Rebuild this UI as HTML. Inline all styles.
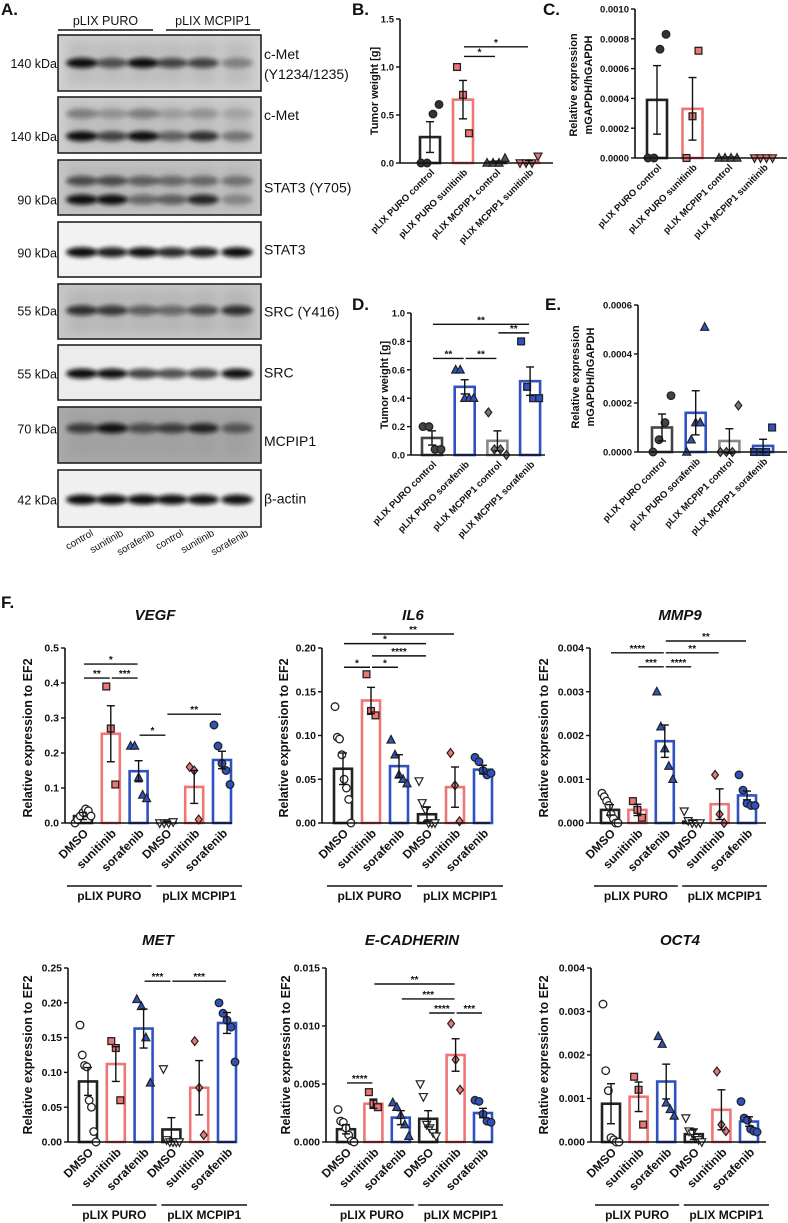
<!DOCTYPE html>
<html><head><meta charset="utf-8">
<style>
html,body{margin:0;padding:0;background:#fff;}
svg{display:block;font-family:"Liberation Sans",sans-serif;}
</style></head>
<body>
<svg id="fig" width="788" height="1223" viewBox="0 0 788 1223" xmlns="http://www.w3.org/2000/svg">
<defs>
<filter id="blur2" x="-50%" y="-100%" width="200%" height="300%"><feGaussianBlur stdDeviation="2"/></filter>
<filter id="blur5" x="-20%" y="-50%" width="140%" height="200%"><feGaussianBlur stdDeviation="5"/></filter>
</defs>
</svg>
<script>
// ---------- Panel B ----------
const bCats = ['pLIX PURO control','pLIX PURO sunitinib','pLIX MCPIP1 control','pLIX MCPIP1 sunitinib'];
const bTicks = [0,0.5,1.0,1.5];
const bTickLabels = ['0.0','0.5','1.0','1.5'];
const bMeans = [0.27,0.66,0.01,0.01];
const bErr = [0.16,0.20,0.01,0.015];
const bPts = [[0,0,0.51,0.61],[1.0,0.71,0.31],[0,0,0,0.05],[0,0,0,0.07]];
const bSig = [[1,2,1.11,'*'],[1,3,1.21,'*']];
// ---------- Panel C ----------
const cCats = bCats;
const cTicks = [0,0.0002,0.0004,0.0006,0.0008,0.0010];
const cTickLabels = ['0.0000','0.0002','0.0004','0.0006','0.0008','0.0010'];
const cMeans = [0.00039,0.00033,0,0];
const cErr = [0.00023,0.00021,0,0];
const cPts = [[0,0,0.00073,0.00083],[0,0.00028,0.00072],[0,0,0,0],[0,0,0,0]];
// ---------- Panel D ----------
const dCats = ['pLIX PURO control','pLIX PURO sorafenib','pLIX MCPIP1 control','pLIX MCPIP1 sorafenib'];
const dTicks = [0,0.2,0.4,0.6,0.8,1.0];
const dTickLabels = ['0.0','0.2','0.4','0.6','0.8','1.0'];
const dMeans = [0.12,0.48,0.10,0.52];
const dErr = [0.05,0.05,0.07,0.10];
const dPts = [[0.2,0.2,0.04,0.04],[0.6,0.6,0.4,0.4,0.4],[0.3,0.04,0.04,0],[0.8,0.48,0.4,0.4]];
const dSig = [[0,3,0.92,'**'],[2,3,0.86,'**'],[0,1,0.68,'**'],[1,2,0.68,'**']];
// ---------- Panel E ----------
const eCats = dCats;
const eTicks = [0,0.0002,0.0004,0.0006];
const eTickLabels = ['0.0000','0.0002','0.0004','0.0006'];
const eMeans = [0.0001,0.00016,0.000045,0.000025];
const eErr = [0.000055,0.00009,0.00005,0.000027];
const ePts = [[0,0.00005,0.00012,0.00023],[0,0.00005,0.00012,0.00012,0.00051],[0,0,0,0.00019],[0,0,0,0.0001]];
// ---------- Panel F ----------
const fCats = ['DMSO','sunitinib','sorafenib','DMSO','sunitinib','sorafenib'];
const vegfTicks = [0,0.1,0.2,0.3,0.4,0.5];
const vegfTickLabels = ['0.0','0.1','0.2','0.3','0.4','0.5'];
const vegfMeans = [0.02,0.255,0.148,0.003,0.103,0.18];
const vegfErr = [0.01,0.08,0.03,0.002,0.047,0.025];
const vegfPts = [[0,0.01,0.02,0.03,0.04,0.035,0.02],[0.39,0.27,0.11],[0.22,0.22,0.13,0.08,0.07],[0,0,0,0.003],[0.16,0.15,0.01],[0.28,0.22,0.17,0.15,0.11]];
const vegfSig = [[0,2,0.454,'*'],[0,1,0.414,'**'],[1,2,0.414,'***'],[2,3,0.251,'*'],[3,5,0.311,'**']];
const il6Ticks = [0,0.05,0.10,0.15,0.20];
const il6TickLabels = ['0.00','0.05','0.10','0.15','0.20'];
const il6Means = [0.062,0.14,0.065,0.01,0.041,0.061];
const il6Err = [0.018,0.015,0.013,0.008,0.023,0.005];
const il6Pts = [[0.133,0.098,0.096,0.078,0.05,0.04,0.027,0],[0.17,0.128,0.123],[0.095,0.078,0.055,0.05,0.045],[0.048,0.023,0.015,0,0,0],[0.08,0.043,0.002],[0.075,0.07,0.06,0.055,0.057]];
const il6Sig = [[1,4,0.216,'**'],[0,3,0.205,'*'],[1,3,0.191,'****'],[0,1,0.178,'*'],[1,2,0.178,'*']];
const mmp9Ticks = [0,0.001,0.002,0.003,0.004];
const mmp9TickLabels = ['0.000','0.001','0.002','0.003','0.004'];
const mmp9Means = [0.0003,0.0003,0.00187,0.00003,0.00043,0.00063];
const mmp9Err = [0.00012,0.00013,0.00037,0.00003,0.00035,0.0001];
const mmp9Pts = [[0.00068,0.0006,0.0005,0.0004,0.0002,0.0001,0,0],[0.0005,0.0003,0.00012],[0.003,0.0022,0.0017,0.0013,0.001],[0.00027,0.00005,0,0,0],[0.0011,0.0002,0],[0.0011,0.00075,0.00045,0.0004,0.0004]];
const mmp9Sig = [[2,5,0.00416,'**'],[0,2,0.00389,'****'],[2,4,0.00389,'**'],[1,2,0.00357,'***'],[2,3,0.00357,'****']];
const metTicks = [0,0.05,0.10,0.15,0.20,0.25];
const metTickLabels = ['0.00','0.05','0.10','0.15','0.20','0.25'];
const metMeans = [0.087,0.112,0.163,0.018,0.078,0.171];
const metErr = [0.02,0.025,0.028,0.017,0.039,0.015];
const metPts = [[0.168,0.125,0.11,0.108,0.06,0.05,0.015,0],[0.145,0.135,0.06],[0.205,0.195,0.15,0.085],[0.105,0.003,0,0,0,0],[0.145,0.078,0.01],[0.2,0.185,0.175,0.165,0.115]];
const metSig = [[2,3,0.231,'***'],[3,5,0.231,'***']];
const ecadTicks = [0,0.005,0.010,0.015];
const ecadTickLabels = ['0.000','0.005','0.010','0.015'];
const ecadMeans = [0.0011,0.0033,0.0021,0.002,0.0075,0.0025];
const ecadErr = [0.0004,0.0004,0.0006,0.0007,0.0014,0.0004];
const ecadPts = [[0.0028,0.0018,0.0017,0.0012,0.0006,0.0001,0],[0.0043,0.0033,0.003],[0.0034,0.003,0.0023,0.0015,0.0005],[0.005,0.0039,0.0015,0.0012,0.0008,0.0005],[0.0102,0.0071,0.0045],[0.0036,0.0035,0.0024,0.0018,0.0017]];
const ecadSig = [[1,4,0.01362,'**'],[2,4,0.01233,'***'],[3,4,0.01112,'****'],[4,5,0.01112,'***'],[0,1,0.00509,'****']];
const oct4Ticks = [0,0.001,0.002,0.003,0.004];
const oct4TickLabels = ['0.000','0.001','0.002','0.003','0.004'];
const oct4Means = [0.00088,0.00104,0.00139,0.00018,0.00074,0.00047];
const oct4Err = [0.00046,0.00034,0.0004,0.00012,0.00046,0.00011];
const oct4Pts = [[0.00317,0.00164,0.00118,0.0001,0.00005,0,0],[0.0015,0.0012,0.0004],[0.00243,0.00225,0.0009,0.00075,0.0006],[0.00055,0.00025,0.0002,0.0001,0.00005,0],[0.00162,0.0004,0.00025],[0.00093,0.00055,0.0005,0.0003,0.00025,0.00023]];
const oct4Sig = [];

const NS='http://www.w3.org/2000/svg';
const svg=document.getElementById('fig');
function mk(tag,attrs,parent){const e=document.createElementNS(NS,tag);for(const k in attrs)e.setAttribute(k,attrs[k]);(parent||svg).appendChild(e);return e;}
function txt(s,attrs,parent){const e=mk('text',attrs,parent);e.textContent=s;return e;}

const RED='#f07575', BLUE='#2f52c0', BLK='#222';

function marker(g,shape,x,y,fill,stroke,s){
  let e;
  if(shape==='circle'){e=mk('circle',{cx:x,cy:y,r:s*0.95,fill:fill,stroke:stroke,'stroke-width':1.3},g);}
  else if(shape==='square'){e=mk('rect',{x:x-s*0.85,y:y-s*0.85,width:s*1.7,height:s*1.7,fill:fill,stroke:stroke,'stroke-width':1.3},g);}
  else if(shape==='tri'){e=mk('polygon',{points:`${x},${y-s*1.1} ${x-s},${y+s*0.8} ${x+s},${y+s*0.8}`,fill:fill,stroke:stroke,'stroke-width':1.2},g);}
  else if(shape==='itri'){e=mk('polygon',{points:`${x},${y+s*1.1} ${x-s},${y-s*0.8} ${x+s},${y-s*0.8}`,fill:fill,stroke:stroke,'stroke-width':1.2},g);}
  else {e=mk('polygon',{points:`${x},${y-s*1.1} ${x+s*0.85},${y} ${x},${y+s*1.1} ${x-s*0.85},${y}`,fill:fill,stroke:stroke,'stroke-width':1.2},g);}
  return e;
}

function chart(o){
  const g=mk('g',{});
  
  
  const max=o.ticks[o.ticks.length-1];
  const y=v=>o.base-(v/max)*(o.base-o.top);
  const xc=i=>o.first+i*o.step;
  o.means.forEach((m,i)=>{
    const b=mk('rect',{x:xc(i)-o.bw/2,y:Math.min(y(m),o.base-0.5),width:o.bw,height:Math.max(o.base-y(m),0.5),fill:'none',stroke:o.colors[i],'stroke-width':2.6},g);
    
    
  });
  o.pts.forEach((arr,i)=>{
    const n=arr.length;
    const jit=n>1?Math.min(o.jit,(o.bw-2)/(n-1)):0;
    arr.forEach((v,j)=>{
      const off=(j-(n-1)/2)*jit;
      const p=marker(g,o.shapes[i],xc(i)+off,y(v),o.fills[i],o.mstroke[i],o.ms);
      
      
    });
  });
  o.means.forEach((m,i)=>{
    const e=o.err[i]; if(!e)return;
    const eg=mk('g',{stroke:'#111','stroke-width':1.4},g);
    
    
    mk('line',{x1:xc(i),x2:xc(i),y1:y(m-e),y2:y(m+e)},eg);
    mk('line',{x1:xc(i)-4,x2:xc(i)+4,y1:y(m-e),y2:y(m-e)},eg);
    mk('line',{x1:xc(i)-4,x2:xc(i)+4,y1:y(m+e),y2:y(m+e)},eg);
  });
  const ya=mk('line',{x1:o.ax,x2:o.ax,y1:o.top,y2:o.base,stroke:'#111','stroke-width':1.6},g);
  
  
  const xa=mk('line',{x1:o.ax,x2:o.xend,y1:o.base,y2:o.base,stroke:'#111','stroke-width':1.6},g);
  
  
  o.ticks.forEach((t,i)=>{
    mk('line',{x1:o.ax-4,x2:o.ax,y1:y(t),y2:y(t),stroke:'#111','stroke-width':1.4},g);
    const tl=txt(o.tickLabels[i],{x:o.ax-6,y:y(t)+3.6,'text-anchor':'end','font-size':o.tfs,'font-weight':'bold',fill:'#111'},g);
    
    
  });
  o.cats.forEach((c,i)=>{
    const cx=xc(i)+o.lx, cy=o.base+o.ly;
    const t=txt(c,{x:cx,y:cy,'text-anchor':'end','font-size':o.cfs,'font-weight':'bold',fill:'#111',transform:`rotate(${o.rot} ${cx} ${cy})`},g);
    
    
  });
  (o.sig||[]).forEach(s=>{
    const yy=y(s[2]);
    const sl=mk('line',{x1:xc(s[0])+1,x2:xc(s[1])-1,y1:yy,y2:yy,stroke:'#111','stroke-width':1.4},g);
    
    
    const st=txt(s[3],{x:(xc(s[0])+xc(s[1]))/2,y:yy-1,'text-anchor':'middle','font-size':10,'font-weight':'bold',fill:'#111'},g);
    
    
  });
  o.ytitle.forEach((ln,k)=>{
    const tx=o.ytx+k*o.ytdx, ty=o.yty;
    const t=txt(ln,{x:tx,y:ty,'text-anchor':'middle','font-size':o.yfs,'font-weight':'bold',fill:'#111',transform:`rotate(-90 ${tx} ${ty})`},g);
    
    
  });
  if(o.title){
    const t=txt(o.title,{x:o.tx,y:o.ty,'text-anchor':'middle','font-size':15,'font-weight':'bold','font-style':'italic',fill:'#111'},g);
    
    
  }
  if(o.groups){
    const gl=[[xc(0)-16,xc(2)+13,'pLIX PURO'],[xc(3)-10,xc(5)+20,'pLIX MCPIP1']];
    gl.forEach(q=>{
      const l=mk('line',{x1:q[0],x2:q[1],y1:o.base+63,y2:o.base+63,stroke:'#111','stroke-width':1.6},g);
      
      
      const t=txt(q[2],{x:(q[0]+q[1])/2,y:o.base+77,'text-anchor':'middle','font-size':12,'font-weight':'bold',fill:'#111'},g);
      
      
    });
  }
}

const smallBase={bw:20,jit:6,ms:4,tfs:9.5,cfs:9.5,rot:-45,lx:5,ly:10,yfs:11};
chart(Object.assign({},smallBase,{name:'panel-b-chart',key:'b',cats:bCats,ticks:bTicks,tickLabels:bTickLabels,means:bMeans,err:bErr,pts:bPts,sig:bSig,
  ax:400,xend:553,top:19,base:163,first:430,step:33,colors:[BLK,RED,BLK,RED],shapes:['circle','square','tri','itri'],fills:['#333',RED,'#555',RED],mstroke:['#222','#222','#222','#222'],
  ytitle:['Tumor weight [g]'],ytx:378,yty:91,ytdx:0}));
chart(Object.assign({},smallBase,{name:'panel-c-chart',key:'c',cats:cCats,ticks:cTicks,tickLabels:cTickLabels,means:cMeans,err:cErr,pts:cPts,
  ax:635,xend:787,top:9,base:158,first:657,step:35.5,colors:[BLK,RED,BLK,RED],shapes:['circle','square','tri','itri'],fills:['#333',RED,'#555',RED],mstroke:['#222','#222','#222','#222'],
  ytitle:['Relative expression','mGAPDH/hGAPDH'],ytx:577,yty:85,ytdx:15}));
chart(Object.assign({},smallBase,{name:'panel-d-chart',key:'d',cats:dCats,ticks:dTicks,tickLabels:dTickLabels,means:dMeans,err:dErr,pts:dPts,sig:dSig,
  ax:411,xend:545,top:313,base:455,first:432,step:32.7,colors:['#444',BLUE,'#888',BLUE],shapes:['circle','tri','diamond','square'],fills:['#444',BLUE,'#777',BLUE],mstroke:['#222','#222','#222','#222'],
  ytitle:['Tumor weight [g]'],ytx:388,yty:385,ytdx:0}));
chart(Object.assign({},smallBase,{name:'panel-e-chart',key:'e',cats:eCats,ticks:eTicks,tickLabels:eTickLabels,means:eMeans,err:eErr,pts:ePts,
  ax:638,xend:787,top:305,base:452,first:662,step:33.7,colors:['#444',BLUE,'#888',BLUE],shapes:['circle','tri','diamond','square'],fills:['#444',BLUE,'#777',BLUE],mstroke:['#222','#222','#222','#222'],
  ytitle:['Relative expression','mGAPDH/hGAPDH'],ytx:579,yty:377,ytdx:15}));

const fBase={bw:18,jit:4.5,ms:4,tfs:10.5,cfs:12,rot:-45,lx:6,ly:11,yfs:12.5,groups:true,
  colors:[BLK,RED,BLUE,BLK,RED,BLUE],shapes:['circle','square','tri','itri','diamond','circle'],
  fills:['#fff',RED,BLUE,'#fff',RED,BLUE],mstroke:['#222','#222','#222','#222','#222','#222'],ytitle:['Relative expression to EF2'],ytdx:0};
chart(Object.assign({},fBase,{name:'vegf-chart',key:'vegf',title:'VEGF',tx:155,ty:620,cats:fCats,ticks:vegfTicks,tickLabels:vegfTickLabels,means:vegfMeans,err:vegfErr,pts:vegfPts,sig:vegfSig,
  ax:65,xend:232,top:648,base:823,first:83,step:27.8,ytx:32,yty:738}));
chart(Object.assign({},fBase,{name:'il6-chart',key:'il6',title:'IL6',tx:413,ty:620,cats:fCats,ticks:il6Ticks,tickLabels:il6TickLabels,means:il6Means,err:il6Err,pts:il6Pts,sig:il6Sig,
  ax:322,xend:490,top:648,base:823,first:343,step:28,ytx:288,yty:738}));
chart(Object.assign({},fBase,{name:'mmp9-chart',key:'mmp9',title:'MMP9',tx:680,ty:620,cats:fCats,ticks:mmp9Ticks,tickLabels:mmp9TickLabels,means:mmp9Means,err:mmp9Err,pts:mmp9Pts,sig:mmp9Sig,
  ax:590,xend:766,top:648,base:823,first:610,step:27.4,ytx:548,yty:738}));
chart(Object.assign({},fBase,{name:'met-chart',key:'met',title:'MET',tx:158,ty:945,cats:fCats,ticks:metTicks,tickLabels:metTickLabels,means:metMeans,err:metErr,pts:metPts,sig:metSig,
  ax:68,xend:236,top:968,base:1142,first:88,step:27.8,ytx:32,yty:1055}));
chart(Object.assign({},fBase,{name:'e-cadherin-chart',key:'ecad',title:'E-CADHERIN',tx:412,ty:945,cats:fCats,ticks:ecadTicks,tickLabels:ecadTickLabels,means:ecadMeans,err:ecadErr,pts:ecadPts,sig:ecadSig,
  ax:326,xend:492,top:968,base:1142,first:346,step:27.4,ytx:290,yty:1055}));
chart(Object.assign({},fBase,{name:'oct4-chart',key:'oct4',title:'OCT4',tx:680,ty:945,cats:fCats,ticks:oct4Ticks,tickLabels:oct4TickLabels,means:oct4Means,err:oct4Err,pts:oct4Pts,sig:oct4Sig,
  ax:591,xend:766,top:968,base:1142,first:611,step:27.6,ytx:548,yty:1055}));

// ---------- Panel A: western blots ----------
const laneX=[82,112,143,172,203,237];
const blots=[
 {y:35,h:56,bg:'#cfcfcf',label:['c-Met','(Y1234/1235)'],kda:'140 kDa',bands:[[0.5,[1,0.55,0.95,0.6,0.6,0.3]]]},
 {y:97,h:56,bg:'#cdcdcd',label:['c-Met'],kda:'140 kDa',bands:[[0.3,[0.3,0.2,0.3,0.15,0.2,0.12]],[0.7,[0.95,0.6,0.95,0.45,0.7,0.35]]]},
 {y:160,h:55,bg:'#c4c4c4',label:['STAT3 (Y705)'],kda:'90 kDa',bands:[[0.38,[0.55,0.55,0.45,0.4,0.4,0.35]],[0.72,[0.95,1,0.4,0.45,0.75,0.25]]]},
 {y:222,h:55,bg:'#f2f2f2',label:['STAT3'],kda:'90 kDa',bands:[[0.55,[0.9,0.8,0.85,0.75,0.8,0.9]]]},
 {y:284,h:55,bg:'#c6c6c6',label:['SRC (Y416)'],kda:'55 kDa',bands:[[0.48,[0.7,0.65,0.45,0.4,0.55,0.7]]]},
 {y:345,h:55,bg:'#ececec',label:['SRC'],kda:'55 kDa',bands:[[0.52,[0.9,0.85,0.65,0.6,0.65,0.85]]]},
 {y:407,h:56,bg:'#a9a9a9',label:['MCPIP1'],kda:'70 kDa',bands:[[0.38,[0.6,0.85,0.5,0.6,0.75,0.45]]]},
 {y:470,h:57,bg:'#f0f0f0',label:['β-actin'],kda:'42 kDa',bands:[[0.52,[0.95,0.95,0.95,0.85,0.85,0.85]]]}
];
blots.forEach((b,bi)=>{
  const g=mk('g',{});
  
  
  mk('rect',{x:58,y:b.y,width:203,height:b.h,fill:b.bg},g);
  if(b.bg<'#d'){
    laneX.forEach(x=>mk('rect',{x:x-14,y:b.y+6,width:28,height:b.h-12,fill:'#888',opacity:0.25,filter:'url(#blur5)'},g));
  }
  b.bands.forEach(bd=>{
    bd[1].forEach((a,i)=>{
      mk('ellipse',{cx:laneX[i],cy:b.y+b.h*bd[0],rx:16,ry:5,fill:'#0a0a0a',opacity:Math.min(1,a*1.15),filter:'url(#blur2)'},g);
    });
  });
  mk('rect',{x:58,y:b.y,width:203,height:b.h,fill:'none',stroke:'#222','stroke-width':1.6},g);
  const k=txt(b.kda,{x:57,y:b.y+b.h*(b.bands[b.bands.length-1][0])+5,'text-anchor':'end','font-size':12.5,fill:'#111'},g);
  
  
  const ly=b.label.length===2? b.y+b.h/2-4 : b.y+b.h/2+5+(bi===1?-10:0)+(bi===6?6:0);
  b.label.forEach((s,j)=>{
    const t=txt(s,{x:264,y:ly+j*20,'font-size':14,fill:'#111'},g);
    
    
  });
});
const laneNames=['control','sunitinib','sorafenib','control','sunitinib','sorafenib'];
laneNames.forEach((s,i)=>{
  const x=laneX[i]+12,y=535;
  const t=txt(s,{x:x,y:y,'text-anchor':'end','font-size':10,fill:'#111',transform:`rotate(-30 ${x} ${y})`});
  
  
});
[[58,153,'pLIX PURO'],[166,260,'pLIX MCPIP1']].forEach(h=>{
  const l=mk('line',{x1:h[0],x2:h[1],y1:30,y2:30,stroke:'#111','stroke-width':1.4});
  
  
  const t=txt(h[2],{x:(h[0]+h[1])/2,y:25,'text-anchor':'middle','font-size':12.5,fill:'#111'});
  
  
});
[['A.',1,15],['B.',352,15],['C.',543,15],['D.',352,310],['E.',545,310],['F.',1,608]].forEach(p=>{
  const t=txt(p[0],{x:p[1],y:p[2],'font-size':17,'font-weight':'bold',fill:'#111'});
  
  
});
</script>
</body></html>
